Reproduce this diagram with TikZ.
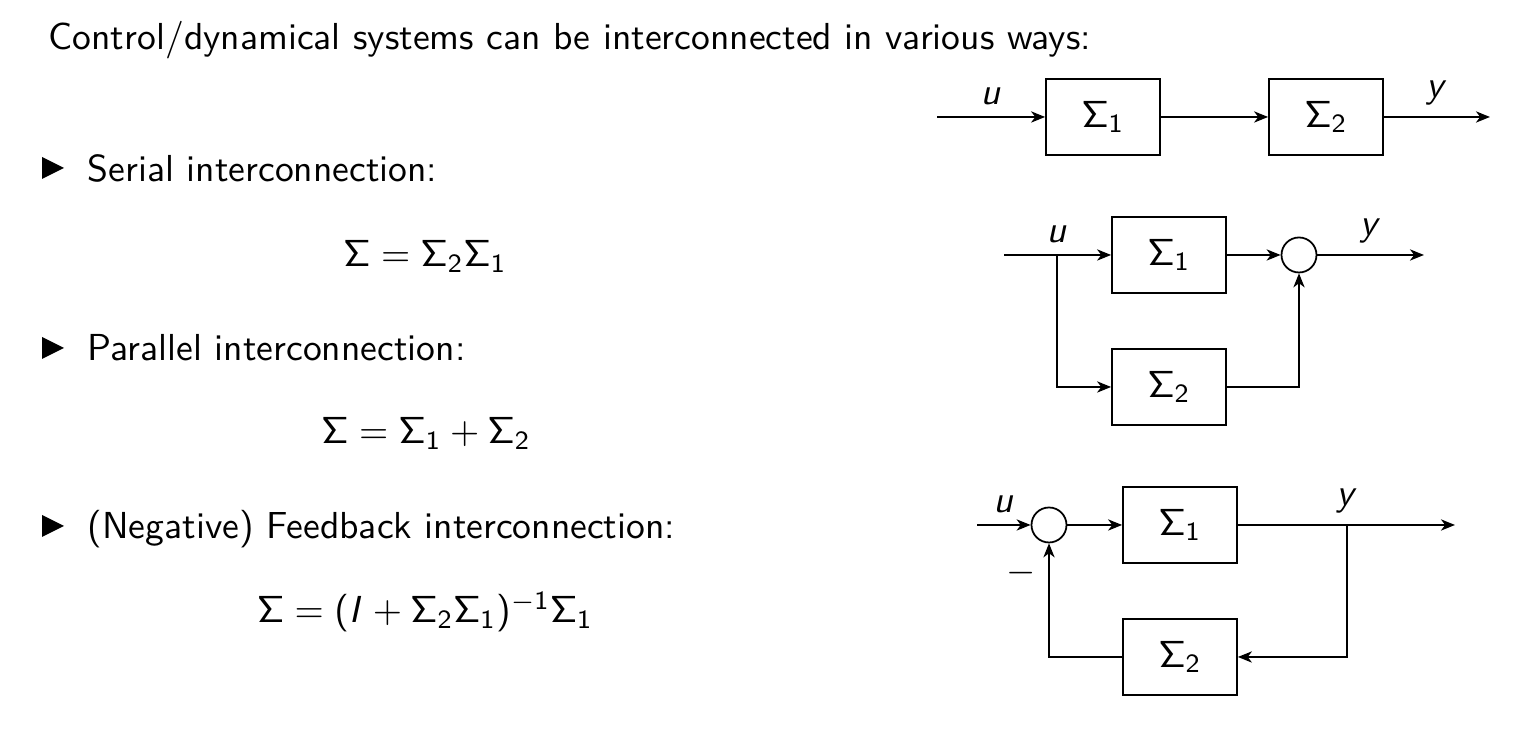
\RequirePackage{fix-cm}
\documentclass[tikz,border=0pt]{standalone}
\usetikzlibrary{arrows.meta}

% sans serif text and math, as on a slide
\renewcommand{\familydefault}{\sfdefault}
\DeclareSymbolFont{sfletters}{OT1}{cmss}{m}{sl}
\SetSymbolFont{operators}{normal}{OT1}{cmss}{m}{n}
\DeclareMathSymbol{u}{\mathalpha}{sfletters}{`u}
\DeclareMathSymbol{y}{\mathalpha}{sfletters}{`y}
\DeclareMathSymbol{I}{\mathalpha}{sfletters}{`I}

\tikzset{
  every node/.style={font=\fontsize{10.7}{13}\selectfont},
  block/.style={draw, line width=0.5pt, minimum width=1.14cm, minimum height=0.76cm, inner sep=0pt},
  sumnode/.style={draw, line width=0.5pt, circle, minimum size=0.35cm, inner sep=0pt},
  sig/.style={line width=0.5pt, -{Stealth[length=4pt,width=3.2pt,inset=1.2pt]}}
}

\begin{document}
\begin{tikzpicture}

\useasboundingbox (0,0) rectangle (15.32,7.37);

% Header and bullet list
\node[anchor=base west, inner sep=0pt] (head) at (0.48,6.87) {Control/dynamical systems can be interconnected in various ways:};
\foreach \yb in {5.69,3.89,2.11}
  \fill (0.42,{\yb+0.11}) -- (0.64,\yb) -- (0.42,{\yb-0.11}) -- cycle;
\node[anchor=base west, inner sep=0pt] (serial) at (0.87,5.55) {Serial interconnection:};
\node[anchor=base west, inner sep=0pt] (parallel) at (0.87,3.76) {Parallel interconnection:};
\node[anchor=base west, inner sep=0pt] (feedback) at (0.87,1.98) {(Negative) Feedback interconnection:};

% Formulas
\node[anchor=base, inner sep=0pt] (fserial) at (4.25,4.70) {$\Sigma = \Sigma_2\Sigma_1$};
\node[anchor=base, inner sep=0pt] (fparallel) at (4.26,2.93) {$\Sigma = \Sigma_1 + \Sigma_2$};
\node[anchor=base, inner sep=0pt] (ffeedback) at (4.25,1.14) {$\Sigma = (I + \Sigma_2\Sigma_1)^{-1}\Sigma_1$};

% Serial interconnection
\coordinate (sin) at (9.37,6.20);
\node[block] (s1) at (11.03,6.20) {$\Sigma_1$};
\node[block] (s2) at (13.26,6.20) {$\Sigma_2$};
\coordinate (sout) at (14.90,6.20);
\draw[sig] (sin) -- node[above] {$u$} (s1);
\draw[sig] (s1) -- (s2);
\draw[sig] (s2) -- node[above] {$y$} (sout);

% Parallel interconnection
\coordinate (pin) at (10.04,4.82);
\coordinate (pbr) at (10.57,4.82);
\node[block] (p1) at (11.69,4.82) {$\Sigma_1$};
\node[block] (p2) at (11.69,3.50) {$\Sigma_2$};
\node[sumnode] (psum) at (12.99,4.82) {};
\coordinate (pout) at (14.24,4.82);
\draw[sig] (pin) -- (p1);
\node[above] at (pbr) {$u$};
\draw[sig] (pbr) |- (p2);
\draw[sig] (p1) -- (psum);
\draw[sig] (p2) -| (psum);
\draw[sig] (psum) -- node[above] {$y$} (pout);

% Feedback interconnection
\coordinate (fin) at (9.77,2.12);
\node[sumnode] (fsum) at (10.49,2.12) {};
\node[block] (f1) at (11.80,2.12) {$\Sigma_1$};
\node[block] (f2) at (11.80,0.80) {$\Sigma_2$};
\coordinate (fbr) at (13.47,2.12);
\coordinate (fout) at (14.55,2.12);
\draw[sig] (fin) -- node[above] {$u$} (fsum);
\draw[sig] (fsum) -- (f1);
\draw[sig] (f1) -- (fout);
\node[above] at (fbr) {$y$};
\draw[sig] (fbr) |- (f2);
\draw[sig] (f2) -| (fsum);
\node (minus) at (10.21,1.64) {$-$};

\end{tikzpicture}
\end{document}
